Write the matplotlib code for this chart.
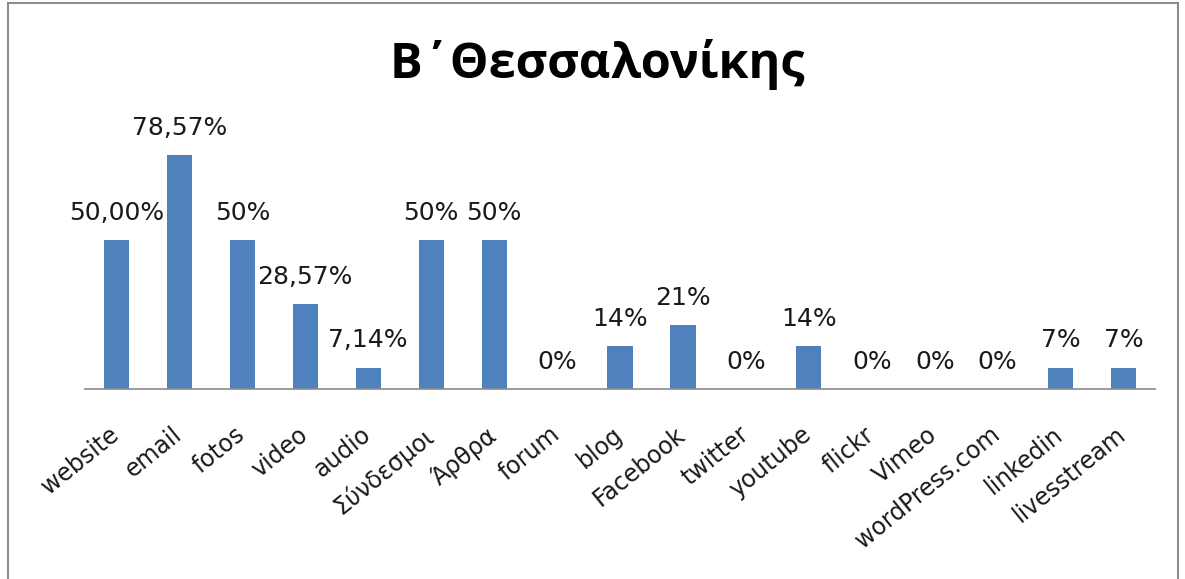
import matplotlib
matplotlib.use("Agg")
import matplotlib.pyplot as plt
import matplotlib.transforms as mtransforms
from matplotlib.patches import Rectangle

categories = ["website", "email", "fotos", "video", "audio", "Σύνδεσμοι", "Άρθρα",
              "forum", "blog", "Facebook", "twitter", "youtube", "flickr", "Vimeo",
              "wordPress.com", "linkedin", "livesstream"]
values = [50.00, 78.57, 50.00, 28.57, 7.14, 50.00, 50.00,
          0.0, 14.29, 21.43, 0.0, 14.29, 0.0, 0.0, 0.0, 7.14, 7.14]
value_labels = ["50,00%", "78,57%", "50%", "28,57%", "7,14%", "50%", "50%",
                "0%", "14%", "21%", "0%", "14%", "0%", "0%", "0%", "7%", "7%"]
title = "Β΄Θεσσαλονίκης"

plt.rcParams['font.family'] = ['DejaVu Sans']

W, H = 1185, 579
fig = plt.figure(figsize=(W / 100, H / 100), dpi=100)
fig.patch.set_facecolor('white')

# outer frame
fig.add_artist(Rectangle((8 / W, -0.01), (1178 - 8) / W, 1 - 3 / H + 0.01,
                         transform=fig.transFigure, fill=False,
                         edgecolor='#8c8c8c', linewidth=1.5))

ax = fig.add_axes([85 / W, 1 - 389 / H, (1155 - 85) / W, (389 - 90) / H])
x = list(range(len(categories)))
ax.bar(x, values, width=0.4, color='#4F81BD')
ax.set_xlim(-0.5, len(categories) - 0.5)
ax.set_ylim(0, 100.3)

for xi, v, lab in zip(x, values, value_labels):
    ax.annotate(lab, (xi, v), xytext=(0, 11), textcoords='offset points',
                ha='center', va='bottom', fontsize=18, color='#1a1a1a')

ax.set_xticks(x)
ax.set_xticklabels(categories, rotation=39, ha='right', va='top',
                   rotation_mode='anchor', fontsize=17, color='#1a1a1a')
ax.tick_params(axis='x', length=0, pad=24)
shift = mtransforms.ScaledTranslation(-8 / 100, 0, fig.dpi_scale_trans)
for lbl in ax.get_xticklabels():
    lbl.set_transform(lbl.get_transform() + shift)
ax.set_yticks([])
for s in ['top', 'right', 'left']:
    ax.spines[s].set_visible(False)
ax.spines['bottom'].set_color('#8c8c8c')
ax.spines['bottom'].set_linewidth(1.2)

fig.text(597 / W, 1 - 65 / H, title, ha='center', va='center',
         fontsize=35, fontweight='bold', color='black', family='Open Sans')

fig.savefig('out.png', dpi=100)
